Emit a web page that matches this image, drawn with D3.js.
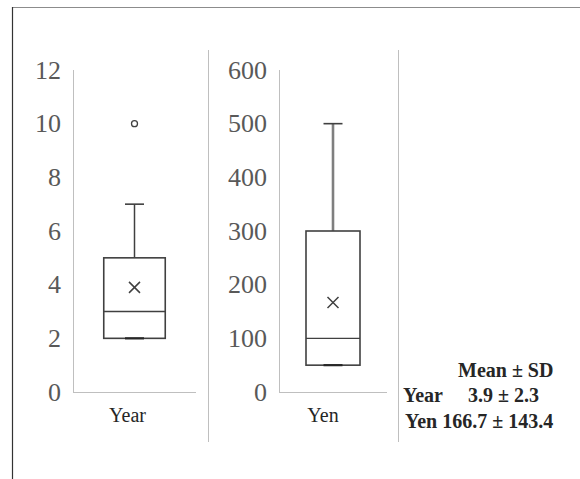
<!DOCTYPE html>
<html>
<head>
<meta charset="utf-8">
<script src="https://cdn.jsdelivr.net/npm/d3@7"></script>
<style>
  html, body { margin: 0; padding: 0; background: #fff; }
  svg { display: block; }
</style>
</head>
<body>
<svg id="chart" width="580" height="479"></svg>
<script>
// Box-plot summaries, one panel per measure
const categories   = ["Year", "Yen"];
const q1           = [2, 50];
const medians      = [3, 100];
const q3           = [5, 300];
const whiskerLow   = [2, 50];
const whiskerHigh  = [7, 500];
const means        = [3.9, 166.7];
const sds          = [2.3, 143.4];
const outliers     = [[10], []];
const axisMax      = [12, 600];
const tickValues   = [[0, 2, 4, 6, 8, 10, 12], [0, 100, 200, 300, 400, 500, 600]];

// Panel layout (pixels)
const panels = [
  { axisX: 73,  rightX: 196, labelShift: -7, whiskerW: 1.5, whiskerC: "#404040" },
  { axisX: 279, rightX: 387, labelShift: -10, whiskerW: 2.6, whiskerC: "#7f7f7f" }
];
const plotTop = 70, plotBottom = 392;
const dark = "#404040", axisGrey = "#bfbfbf", textGrey = "#595959";
const serif = "'Liberation Serif', 'Times New Roman', serif";

const svg = d3.select("#chart");

// outer frame (top and left edges visible)
svg.append("line").attr("x1", 12).attr("x2", 580).attr("y1", 7.5).attr("y2", 7.5)
  .attr("stroke", "#8c8c8c").attr("stroke-width", 1.2);
svg.append("line").attr("x1", 12.5).attr("x2", 12.5).attr("y1", 7).attr("y2", 479)
  .attr("stroke", "#333").attr("stroke-width", 1.2);

// panel separators
[208.5, 398.5].forEach(x => {
  svg.append("line").attr("x1", x).attr("x2", x).attr("y1", 50).attr("y2", 442)
    .attr("stroke", axisGrey).attr("stroke-width", 1);
});

categories.forEach((cat, i) => {
  const p = panels[i];
  const y = d3.scaleLinear().domain([0, axisMax[i]]).range([plotBottom, plotTop]);
  const x = d3.scaleBand().domain([cat]).range([p.axisX, p.rightX])
    .paddingInner(0).paddingOuter(0.5);
  const g = svg.append("g");

  // y axis: labels only, then plain axis lines
  const ax = g.append("g").attr("transform", `translate(${p.axisX},0)`)
    .call(d3.axisLeft(y).tickValues(tickValues[i]).tickSize(0).tickPadding(12));
  ax.attr("font-family", serif).attr("font-size", 26);
  ax.select(".domain").remove();
  ax.selectAll("text").attr("fill", textGrey);

  g.append("line").attr("x1", p.axisX + 0.5).attr("x2", p.axisX + 0.5)
    .attr("y1", plotTop).attr("y2", plotBottom).attr("stroke", axisGrey);
  g.append("line").attr("x1", p.axisX).attr("x2", p.rightX)
    .attr("y1", plotBottom + 0.5).attr("y2", plotBottom + 0.5).attr("stroke", axisGrey);

  // category label
  const cx = x(cat) + x.bandwidth() / 2;
  g.append("text").attr("x", cx + p.labelShift).attr("y", plotBottom + 30)
    .attr("text-anchor", "middle")
    .attr("font-family", serif)
    .attr("font-size", 20).attr("fill", "#262626").text(cat);

  const capHalf = 9.5;
  // upper whisker
  g.append("line").attr("x1", cx).attr("x2", cx)
    .attr("y1", y(q3[i])).attr("y2", y(whiskerHigh[i]))
    .attr("stroke", p.whiskerC).attr("stroke-width", p.whiskerW);
  g.append("line").attr("x1", cx - capHalf).attr("x2", cx + capHalf)
    .attr("y1", y(whiskerHigh[i])).attr("y2", y(whiskerHigh[i]))
    .attr("stroke", dark).attr("stroke-width", 1.6);
  // lower whisker
  g.append("line").attr("x1", cx).attr("x2", cx)
    .attr("y1", y(q1[i])).attr("y2", y(whiskerLow[i]))
    .attr("stroke", p.whiskerC).attr("stroke-width", p.whiskerW);

  // box
  g.append("rect").attr("x", x(cat)).attr("width", x.bandwidth())
    .attr("y", y(q3[i])).attr("height", y(q1[i]) - y(q3[i]))
    .attr("fill", "none").attr("stroke", dark).attr("stroke-width", 1.6);
  g.append("line").attr("x1", cx - capHalf).attr("x2", cx + capHalf)
    .attr("y1", y(whiskerLow[i])).attr("y2", y(whiskerLow[i]))
    .attr("stroke", "#262626").attr("stroke-width", 2.2);
  // median
  g.append("line").attr("x1", x(cat)).attr("x2", x(cat) + x.bandwidth())
    .attr("y1", y(medians[i])).attr("y2", y(medians[i]))
    .attr("stroke", dark).attr("stroke-width", 1.4);

  // mean marker
  const m = y(means[i]), s = 5.5;
  g.append("path")
    .attr("d", `M${cx - s},${m - s}L${cx + s},${m + s}M${cx - s},${m + s}L${cx + s},${m - s}`)
    .attr("stroke", dark).attr("stroke-width", 1.5).attr("fill", "none");

  // outliers
  g.selectAll("circle.out").data(outliers[i]).join("circle")
    .attr("class", "out").attr("cx", cx).attr("cy", d => y(d)).attr("r", 3)
    .attr("fill", "#fff").attr("stroke", dark).attr("stroke-width", 1.3);
});

// Mean ± SD summary
const fmt = v => v.toFixed(1);
const note = svg.append("g")
  .attr("font-family", serif)
  .attr("font-weight", "bold").attr("font-size", 20).attr("fill", "#262626");
note.append("text").attr("x", 458).attr("y", 377).text("Mean ± SD");
note.append("text").attr("x", 403).attr("y", 402).text(categories[0]);
note.append("text").attr("x", 468).attr("y", 402)
  .text(`${fmt(means[0])} ± ${fmt(sds[0])}`);
note.append("text").attr("x", 405).attr("y", 428)
  .text(`${categories[1]} ${fmt(means[1])} ± ${fmt(sds[1])}`);
</script>
</body>
</html>
